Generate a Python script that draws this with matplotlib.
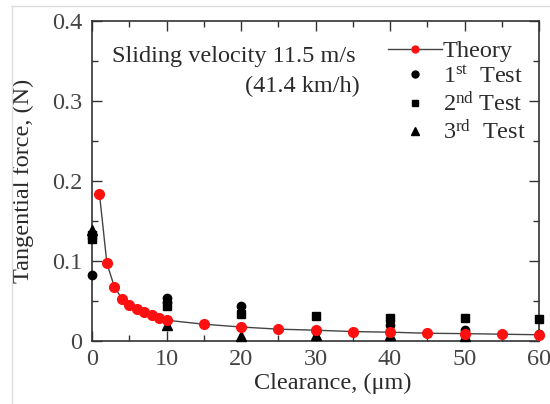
import matplotlib
matplotlib.use("Agg")
import matplotlib.pyplot as plt
from matplotlib.ticker import MultipleLocator
from matplotlib.lines import Line2D

plt.rcParams['font.family'] = ['Liberation Serif', 'DejaVu Serif']
plt.rcParams['mathtext.fontset'] = 'custom'
plt.rcParams['mathtext.rm'] = 'Liberation Serif'
plt.rcParams['mathtext.it'] = 'Liberation Serif:italic'

# Theory curve
theory_x = [1, 2, 3, 4, 5, 6, 7, 8, 9, 10, 15, 20, 25, 30, 35, 40, 45, 50, 55, 60]
theory_y = [0.184, 0.097, 0.068, 0.053, 0.045, 0.040, 0.036, 0.032, 0.029, 0.026,
            0.021, 0.0175, 0.0148, 0.0135, 0.0118, 0.011, 0.0097, 0.0092, 0.0085, 0.0078]

# Tests
test1_x = [0, 10, 10, 20, 30, 40, 50, 60]
test1_y = [0.083, 0.054, 0.049, 0.044, 0.012, 0.020, 0.014, 0.009]
test2_x = [0, 0, 10, 20, 30, 40, 50, 60]
test2_y = [0.128, 0.133, 0.044, 0.034, 0.031, 0.029, 0.029, 0.027]
test3_x = [0, 10, 20, 30, 40, 50]
test3_y = [0.139, 0.020, 0.006, 0.008, 0.007, 0.006]

label_theory = "Theory"
label_t1 = r"1$^{\rm st}$  Test"
label_t2 = r"2$^{\rm nd}$ Test"
label_t3 = r"3$^{\rm rd}$  Test"

TXT = '#2a2a2a'
FS = 17.5

fig = plt.figure(figsize=(5.5, 4.04), dpi=100)
ax = fig.add_axes([92/550, 63/404, 447/550, 320/404])

ax.plot(test1_x, test1_y, 'o', color='black', ms=6, clip_on=False, zorder=3)
ax.plot(test2_x, test2_y, 's', color='black', ms=6, clip_on=False, zorder=3)
ax.plot(test3_x, test3_y, '^', color='black', ms=6.5, clip_on=False, zorder=3)
ax.plot(theory_x, theory_y, '-', color='#444444', lw=1.0, zorder=4)
ax.plot(theory_x, theory_y, 'o', color='#ff1010', ms=7, mec='#ff1010', lw=0, zorder=5, clip_on=False)

ax.set_xlim(0, 60)
ax.set_ylim(0, 0.4)
ax.xaxis.set_major_locator(MultipleLocator(10))
ax.xaxis.set_minor_locator(MultipleLocator(5))
ax.yaxis.set_major_locator(MultipleLocator(0.1))
ax.yaxis.set_minor_locator(MultipleLocator(0.05))
ax.set_yticks([0, 0.1, 0.2, 0.3, 0.4])
ax.set_yticklabels(['0', '0.1', '0.2', '0.3', '0.4'])

ax.tick_params(which='both', direction='in', top=True, right=True, colors='#333333',
               labelsize=FS, labelcolor='#444444')
ax.tick_params(which='major', length=7, width=1)
ax.tick_params(which='minor', length=4, width=1)
ax.tick_params(axis='x', pad=6)
ax.tick_params(axis='y', pad=7)
for s in ax.spines.values():
    s.set_color('#333333')
    s.set_linewidth(1.2)

ax.set_xlabel("Clearance, (μm)", fontsize=FS, color=TXT)
ax.set_ylabel("Tangential force, (N)", fontsize=FS, color=TXT)
ax.xaxis.set_label_coords(0.539, -0.10)
ax.yaxis.set_label_coords(-0.13, 0.50)

ax.text(2.7, 0.356, "Sliding velocity 11.5 m/s", fontsize=FS, color=TXT, va='center', ha='left')
ax.text(36, 0.318, "(41.4 km/h)", fontsize=FS, color=TXT, va='center', ha='right')

handles = [
    Line2D([], [], color='#444444', lw=1, marker='o', ms=5, mfc='#ff1010', mec='#ff1010'),
    Line2D([], [], ls='none', marker='o', ms=5, color='black'),
    Line2D([], [], ls='none', marker='s', ms=5, color='black'),
    Line2D([], [], ls='none', marker='^', ms=5.5, color='black'),
]
leg = ax.legend(handles, [label_theory, label_t1, label_t2, label_t3],
                loc='upper right', bbox_to_anchor=(0.97, 0.94), frameon=False,
                fontsize=FS, handlelength=2.2, handletextpad=0.05, labelspacing=0.15,
                numpoints=1, borderpad=0, borderaxespad=0)
for t in leg.get_texts():
    t.set_color(TXT)

# light screenshot frame
fig.add_artist(Line2D([12/550, 12/550], [0, 1 - 6/404], transform=fig.transFigure, color='#dddddd', lw=1))
fig.add_artist(Line2D([12/550, 1], [1 - 6/404, 1 - 6/404], transform=fig.transFigure, color='#dddddd', lw=1))

fig.savefig("out.png", dpi=100)
